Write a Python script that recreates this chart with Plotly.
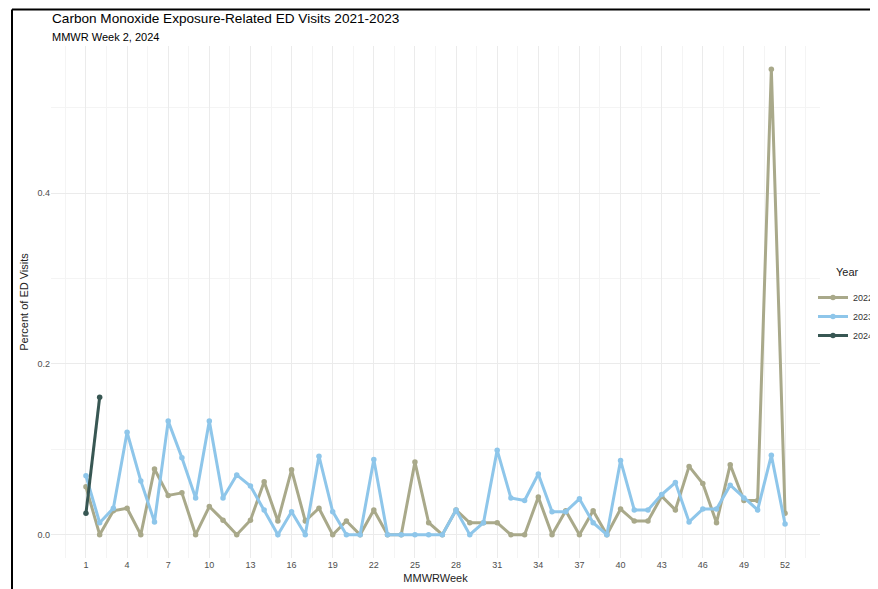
import plotly.graph_objects as go

weeks = list(range(1, 53))

pct_2022 = [0.056, 0.0, 0.028, 0.031, 0.0, 0.077, 0.046, 0.049, 0.0, 0.033,
            0.017, 0.0, 0.017, 0.062, 0.016, 0.076, 0.016, 0.031, 0.0, 0.016,
            0.0, 0.029, 0.0, 0.0, 0.085, 0.014, 0.0, 0.029, 0.014, 0.014,
            0.014, 0.0, 0.0, 0.044, 0.0, 0.028, 0.0, 0.028, 0.0, 0.030,
            0.016, 0.016, 0.045, 0.029, 0.080, 0.060, 0.014, 0.082, 0.040, 0.040,
            0.545, 0.025]

pct_2023 = [0.069, 0.014, 0.031, 0.120, 0.063, 0.015, 0.133, 0.090, 0.043, 0.133,
            0.043, 0.070, 0.057, 0.029, 0.0, 0.027, 0.0, 0.092, 0.027, 0.0,
            0.0, 0.088, 0.0, 0.0, 0.0, 0.0, 0.0, 0.029, 0.0, 0.014,
            0.099, 0.043, 0.040, 0.071, 0.027, 0.027, 0.042, 0.014, 0.0, 0.087,
            0.029, 0.029, 0.047, 0.061, 0.015, 0.030, 0.030, 0.058, 0.043, 0.029,
            0.093, 0.0125]

weeks_2024 = [1, 2]
pct_2024 = [0.025, 0.161]

series = [
    ("2022", weeks, pct_2022, "#A9A98A"),
    ("2023", weeks, pct_2023, "#8EC6EA"),
    ("2024", weeks_2024, pct_2024, "#385753"),
]

x_ticks = list(range(1, 53, 3))
y_ticks = [0.0, 0.2, 0.4]

FONT = "Liberation Sans, Arial, sans-serif"

fig = go.Figure()
for name, xs, ys, color in series:
    fig.add_trace(go.Scatter(
        x=xs, y=ys, name=name, mode="lines+markers",
        line=dict(color=color, width=3),
        marker=dict(color=color, size=5.5),
    ))

# pixel geometry helpers (page body adds an 8px offset, so work in window pixels)
OFF = 8
W, H = 878 - OFF, 589 - OFF
PL, PR, PT, PB = 51, 820, 46, 558   # plot area in window pixels
L, R, T, B = PL - OFF, W - (PR - OFF), PT - OFF, H - (PB - OFF)
pw, ph = W - L - R, H - T - B

def px_x(X):
    return (X - OFF - L) / pw

def px_y(Y):
    return (H - B - (Y - OFF)) / ph

fig.update_layout(
    width=W, height=H,
    margin=dict(l=L, r=R, t=T, b=B, autoexpand=False),
    paper_bgcolor="white", plot_bgcolor="white",
    font=dict(family=FONT, color="#222222"),
    showlegend=True,
    legend=dict(
        font=dict(size=9, color="#333333"),
        x=px_x(813), y=px_y(283), xanchor="left", yanchor="top",
        bgcolor="rgba(0,0,0,0)", itemwidth=30, tracegroupgap=2,
    ),
    xaxis=dict(
        range=[-1.55, 54.55], tickmode="array", tickvals=x_ticks,
        ticktext=[str(v) for v in x_ticks],
        showgrid=True, gridcolor="#EBEBEB", gridwidth=1,
        minor=dict(dtick=1.5, tick0=1, showgrid=True, gridcolor="#F4F4F4", gridwidth=0.6),
        zeroline=False, showline=False, ticks="",
        tickfont=dict(size=9, color="#4D4D4D"),
        title=dict(text="MMWRWeek", font=dict(size=11, color="#222222"), standoff=5),
        automargin=False,
    ),
    yaxis=dict(
        range=[-0.0273, 0.5723], tickmode="array", tickvals=y_ticks,
        ticktext=["0.0", "0.2", "0.4"],
        showgrid=True, gridcolor="#EBEBEB", gridwidth=1,
        minor=dict(dtick=0.1, tick0=0, showgrid=True, gridcolor="#F4F4F4", gridwidth=0.6),
        zeroline=False, showline=False, ticks="",
        tickfont=dict(size=9, color="#4D4D4D"),
        title=dict(text="Percent of ED Visits", font=dict(size=11, color="#222222"), standoff=6),
        automargin=False,
    ),
    annotations=[
        dict(text="Carbon Monoxide Exposure-Related ED Visits 2021-2023",
             xref="paper", yref="paper", x=px_x(50), y=px_y(18),
             xanchor="left", yanchor="middle", showarrow=False,
             font=dict(size=13.6, color="#000000")),
        dict(text="MMWR Week 2, 2024",
             xref="paper", yref="paper", x=px_x(50), y=px_y(37),
             xanchor="left", yanchor="middle", showarrow=False,
             font=dict(size=11, color="#000000")),
        dict(text="Year",
             xref="paper", yref="paper", x=px_x(834), y=px_y(272),
             xanchor="left", yanchor="middle", showarrow=False,
             font=dict(size=11, color="#222222")),
    ],
    shapes=[
        dict(type="line", xref="paper", yref="paper",
             x0=px_x(12), x1=px_x(900), y0=px_y(9.5), y1=px_y(9.5),
             line=dict(color="black", width=2)),
        dict(type="line", xref="paper", yref="paper",
             x0=px_x(12), x1=px_x(12), y0=px_y(9.5), y1=px_y(600),
             line=dict(color="black", width=2)),
    ],
)

fig.write_html("out.html")
